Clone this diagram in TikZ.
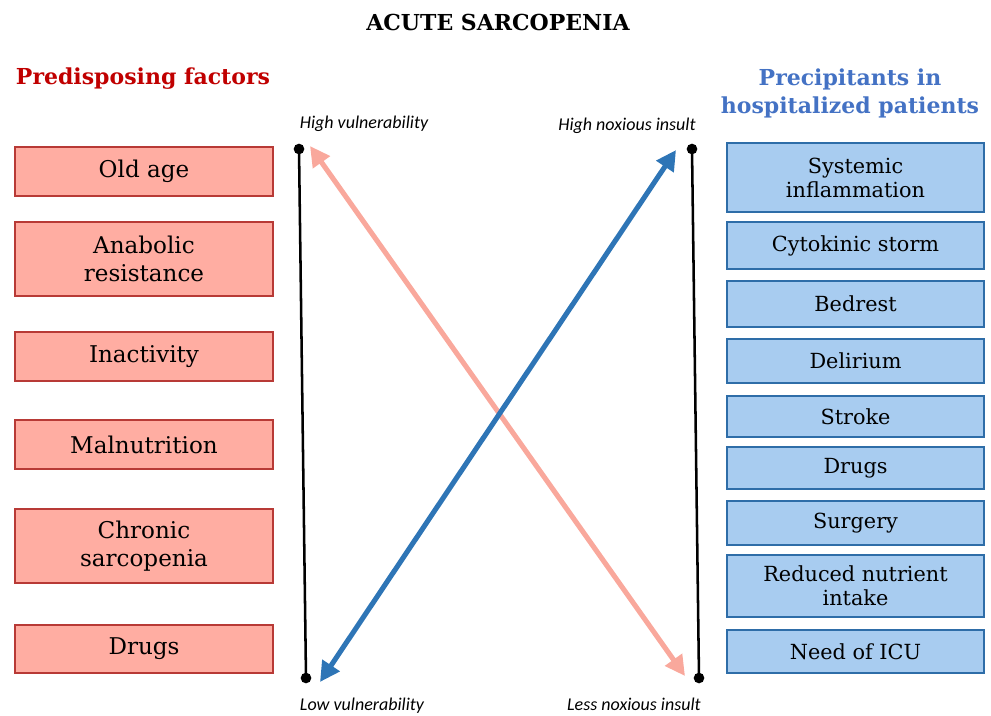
\documentclass[tikz,border=0pt]{standalone}
\usepackage{fontspec}
\setmainfont{DejaVu Serif}
\newfontfamily\labelfont{Carlito}
\usetikzlibrary{arrows.meta}
\definecolor{predred}{HTML}{C00000}
\definecolor{precblue}{HTML}{4472C4}
\definecolor{salmonfill}{HTML}{FFADA2}
\definecolor{salmonedge}{HTML}{B83A36}
\definecolor{skyfill}{HTML}{A8CCF0}
\definecolor{skyedge}{HTML}{2E6DA8}
\definecolor{pinkarrow}{HTML}{F9A89C}
\definecolor{bluearrow}{HTML}{2E75B6}
\begin{document}
\begin{tikzpicture}[x=0.75pt,y=-0.75pt,
  factor/.style={draw=salmonedge,fill=salmonfill,line width=1.1pt,
    minimum width=193.5pt,align=center,inner sep=0pt,
    font=\fontsize{17.3}{21}\selectfont},
  precip/.style={draw=skyedge,fill=skyfill,line width=1.1pt,
    minimum width=192.75pt,align=center,inner sep=0pt,
    font=\fontsize{15.6}{18}\selectfont},
  heading/.style={font=\bfseries\fontsize{16.5}{21}\selectfont,align=center},
  scalelab/.style={font=\labelfont\itshape\fontsize{13.5}{15}\selectfont},
  scaleline/.style={line width=1.9pt,black},
  dot/.style={circle,fill=black,inner sep=0pt,minimum size=8pt},
  dbl/.style={line width=3.8pt,{Triangle[width=15pt,length=15pt]}-{Triangle[width=15pt,length=15pt]}}
]
\useasboundingbox (0,0) rectangle (991,715);

% title and column headings
\node[heading] (title) at (498,22) {ACUTE SARCOPENIA};
\node[heading,text=predred] (predhead) at (143,79) {Predisposing factors};
\node[heading,text=precblue] (prechead) at (850,93) {Precipitants in\\hospitalized patients};

% predisposing factors
\node[factor,minimum height=36.75pt] (f1) at (144,171.5) {Old age};
\node[factor,minimum height=55.5pt] (f2) at (144,259) {Anabolic\\resistance};
\node[factor,minimum height=36.75pt] (f3) at (144,356.5) {Inactivity};
\node[factor,minimum height=36.75pt] (f4) at (144,444.5) {Malnutrition};
\node[factor,minimum height=55.5pt] (f5) at (144,546) {Chronic\\sarcopenia};
\node[factor,minimum height=36pt] (f6) at (144,649) {Drugs};

% precipitants
\node[precip,minimum height=51.75pt] (p1) at (855.5,177.5) {Systemic\\inflammation};
\node[precip,minimum height=35.25pt] (p2) at (855.5,245.5) {Cytokinic storm};
\node[precip,minimum height=34.5pt] (p3) at (855.5,304) {Bedrest};
\node[precip,minimum height=33pt] (p4) at (855.5,361) {Delirium};
\node[precip,minimum height=30.75pt] (p5) at (855.5,416.5) {Stroke};
\node[precip,minimum height=31.5pt] (p6) at (855.5,468) {Drugs};
\node[precip,minimum height=33pt] (p7) at (855.5,523) {Surgery};
\node[precip,minimum height=46.5pt] (p8) at (855.5,586) {Reduced nutrient\\intake};
\node[precip,minimum height=32.25pt] (p9) at (855.5,651.5) {Need of ICU};

% vulnerability scale
\node[dot] (vtop) at (299,149) {};
\node[dot] (vbot) at (306,678) {};
\draw[scaleline] (vtop.center) -- (vbot.center);
\node[scalelab] (vtoplab) at (364,124) {High vulnerability};
\node[scalelab] (vbotlab) at (362,706) {Low vulnerability};

% noxious insult scale
\node[dot] (ntop) at (692,149) {};
\node[dot] (nbot) at (699,678) {};
\draw[scaleline] (ntop.center) -- (nbot.center);
\node[scalelab] (ntoplab) at (627,126) {High noxious insult};
\node[scalelab] (nbotlab) at (634,704) {Less noxious insult};

% crossing arrows
\coordinate (pinkA) at (310,146);
\coordinate (pinkB) at (685,676);
\coordinate (blueA) at (676,150);
\coordinate (blueB) at (320,682);
\draw[dbl,pinkarrow] (pinkA) -- (pinkB);
\draw[dbl,bluearrow] (blueB) -- (blueA);
\end{tikzpicture}
\end{document}
